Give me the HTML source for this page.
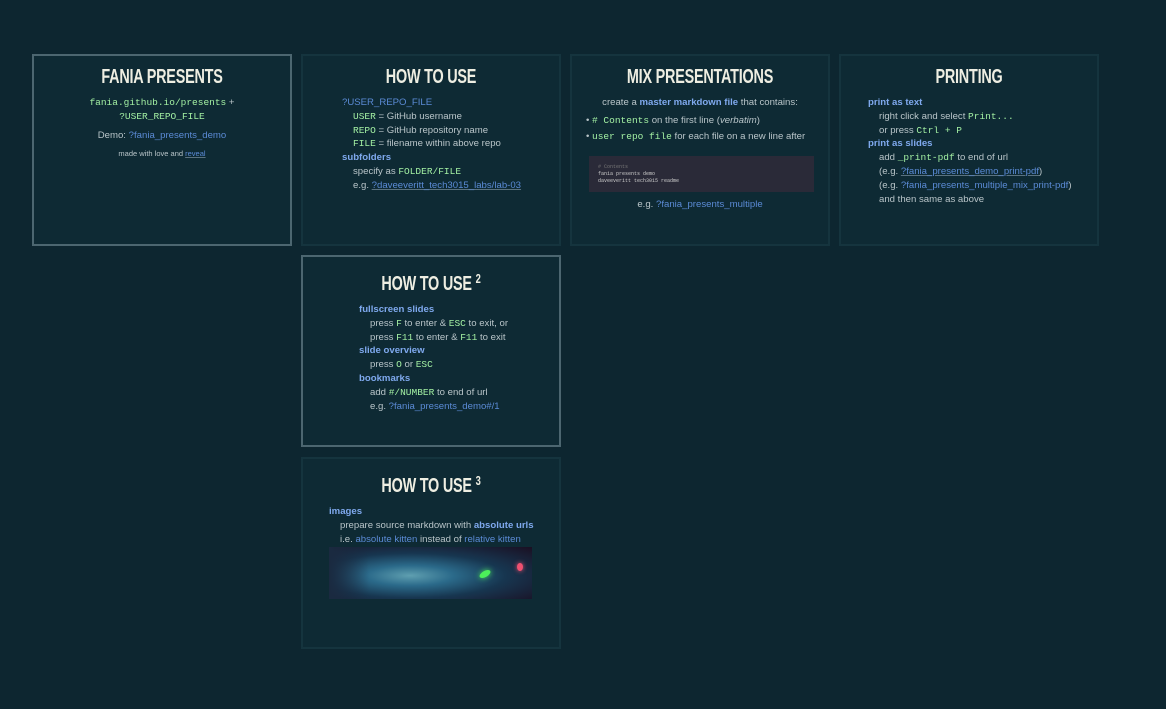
<!DOCTYPE html>
<html><head><meta charset="utf-8"><style>
*{margin:0;padding:0;box-sizing:border-box}
body{width:1166px;height:709px;background:#0d2630;font-family:"Liberation Sans",sans-serif;color:#b9c5c9;position:relative;overflow:hidden}
.s{position:absolute;width:260px;height:192px;background:#0e2a34;border:2px solid #15343e}
.s.a{border-color:#4c6670}
h1{font-family:"Liberation Sans Narrow","Liberation Sans",sans-serif;font-weight:bold;color:#eeeee2;font-size:20px;text-align:center;margin-top:9px;letter-spacing:-0.3px;transform:scaleX(.72);line-height:25px}
h1 sup{font-size:13px;vertical-align:7px}
.b{font-size:9.6px;line-height:13.8px}
.c{text-align:center}
code{font-family:"Liberation Mono",monospace;color:#a3f0a3;font-size:9.5px}
.l{color:#5b8bd6}
.u{color:#5b8bd6;text-decoration:underline;text-decoration-color:#5a7280}
.h{color:#7fa9ee;font-weight:bold}
.i{padding-left:11px}
</style></head><body>

<div class="s a" style="left:32px;top:54px">
<h1>FANIA PRESENTS</h1>
<div class="b c" style="margin-top:6px"><code>fania.github.io/presents</code> +<br><code>?USER_REPO_FILE</code></div>
<div class="b c" style="margin-top:5px">Demo: <span class="l">?fania_presents_demo</span></div>
<div class="c" style="font-size:7.5px;margin-top:7px">made with love and <span class="u">reveal</span></div>
</div>

<div class="s" style="left:301px;top:54px">
<h1>HOW TO USE</h1>
<div class="b" style="margin:6px 0 0 39px">
<div class="l">?USER_REPO_FILE</div>
<div class="i"><code>USER</code> = GitHub username</div>
<div class="i"><code>REPO</code> = GitHub repository name</div>
<div class="i"><code>FILE</code> = filename within above repo</div>
<div class="h">subfolders</div>
<div class="i">specify as <code>FOLDER/FILE</code></div>
<div class="i">e.g. <span class="u">?daveeveritt_tech3015_labs/lab-03</span></div>
</div></div>

<div class="s" style="left:570px;top:54px">
<h1>MIX PRESENTATIONS</h1>
<div class="b c" style="margin-top:6px">create a <span class="h">master markdown file</span> that contains:</div>
<div class="b" style="margin:3px 0 0 14px;line-height:16px">
<div>• <code># Contents</code> on the first line (<i>verbatim</i>)</div>
<div>• <code>user repo file</code> for each file on a new line after</div>
</div>
<div style="margin:11px 0 0 17px;width:225px;height:36px;background:#2a2a38;font-family:'Liberation Mono',monospace;font-size:5px;line-height:7px;padding:8px 9px;color:#ccc"><span style="color:#777"># Contents</span><br>fania presents demo<br>daveeveritt tech3015 readme</div>
<div class="b c" style="margin-top:6px">e.g. <span class="l">?fania_presents_multiple</span></div>
</div>

<div class="s" style="left:839px;top:54px">
<h1>PRINTING</h1>
<div class="b" style="margin:6px 0 0 27px">
<div class="h">print as text</div>
<div class="i">right click and select <code>Print...</code></div>
<div class="i">or press <code>Ctrl + P</code></div>
<div class="h">print as slides</div>
<div class="i">add <code>_print-pdf</code> to end of url</div>
<div class="i">(e.g. <span class="u">?fania_presents_demo_print-pdf</span>)</div>
<div class="i">(e.g. <span class="l">?fania_presents_multiple_mix_print-pdf</span>)</div>
<div class="i">and then same as above</div>
</div></div>

<div class="s a" style="left:301px;top:255px">
<h1>HOW TO USE <sup>2</sup></h1>
<div class="b" style="margin:6px 0 0 56px">
<div class="h">fullscreen slides</div>
<div class="i">press <code>F</code> to enter &amp; <code>ESC</code> to exit, or</div>
<div class="i">press <code>F11</code> to enter &amp; <code>F11</code> to exit</div>
<div class="h">slide overview</div>
<div class="i">press <code>O</code> or <code>ESC</code></div>
<div class="h">bookmarks</div>
<div class="i">add <code>#/NUMBER</code> to end of url</div>
<div class="i">e.g. <span class="l">?fania_presents_demo#/1</span></div>
</div></div>

<div class="s" style="left:301px;top:457px">
<h1>HOW TO USE <sup>3</sup></h1>
<div class="b" style="margin:6px 0 0 26px">
<div class="h">images</div>
<div class="i">prepare source markdown with <span class="h">absolute urls</span></div>
<div class="i">i.e. <span class="l">absolute kitten</span> instead of <span class="l">relative kitten</span></div>
</div>
<div style="margin:1px 0 0 26px;width:203px;height:52px;background:radial-gradient(ellipse at 40% 55%,#5f9fb0 0%,#2b6a8a 25%,#173650 55%,#1a0f22 100%);position:relative;overflow:hidden">
<div style="position:absolute;left:150px;top:24px;width:12px;height:6px;background:#4cf05a;border-radius:50%;transform:rotate(-30deg);box-shadow:0 0 6px #4cf05a"></div>
<div style="position:absolute;left:188px;top:16px;width:6px;height:8px;background:#f05070;border-radius:50%;box-shadow:0 0 5px #f05070"></div>
<div style="position:absolute;left:0;top:0;width:40px;height:52px;background:linear-gradient(90deg,#1a2a40,transparent)"></div>
</div>
</div>

</body></html>
